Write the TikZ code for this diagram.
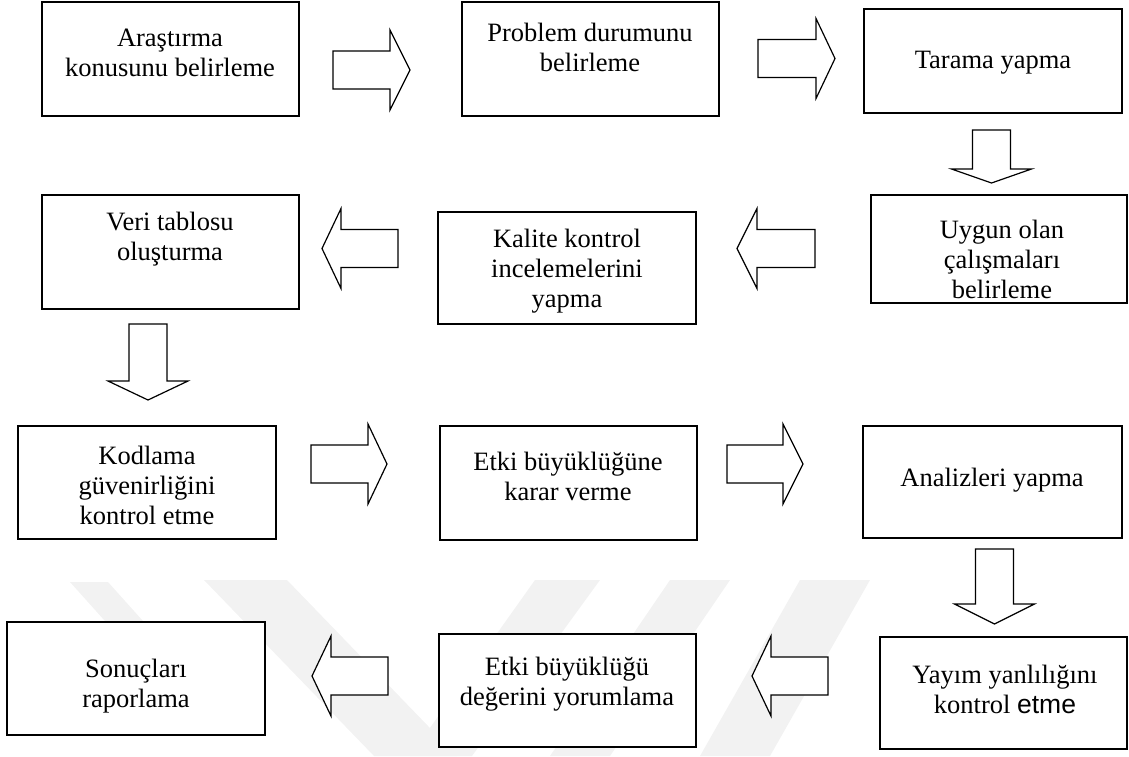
\documentclass[tikz,border=0pt]{standalone}
\usepackage{fontspec}
\setmainfont{Liberation Serif}
\newfontfamily\sansetme{Liberation Sans}
\begin{document}
\begin{tikzpicture}[x=1pt,y=-1pt,
  box/.style={draw=black,fill=white,line width=1.6pt,inner sep=0pt},
  txt/.style={align=center,inner sep=0pt,font=\fontsize{26.5}{30}\selectfont},
  arrowline/.style={draw=black,fill=white,line width=1.2pt,line join=miter},
  wm/.style={fill=black!5,draw=none},
  blockarrow/.pic={\draw[arrowline] (0,-19) -- (\pgfkeysvalueof{/tikz/arrlen}-\pgfkeysvalueof{/tikz/arrhead},-19) -- (\pgfkeysvalueof{/tikz/arrlen}-\pgfkeysvalueof{/tikz/arrhead},-40) -- (\pgfkeysvalueof{/tikz/arrlen},0) -- (\pgfkeysvalueof{/tikz/arrlen}-\pgfkeysvalueof{/tikz/arrhead},40) -- (\pgfkeysvalueof{/tikz/arrlen}-\pgfkeysvalueof{/tikz/arrhead},19) -- (0,19) -- cycle;},
  arrlen/.initial=77, arrhead/.initial=20]
\useasboundingbox (0,0) rectangle (1129,756);
% watermark
\fill[wm] (204,580) -- (287,580) -- (457,756) -- (374,756) -- cycle;
\fill[wm] (70,582) -- (108,582) -- (160,640) -- (122,640) -- cycle;
\fill[wm] (535,580) -- (600,580) -- (472,756) -- (410,756) -- cycle;
\fill[wm] (670,580) -- (730,580) -- (610,756) -- (550,756) -- cycle;
\fill[wm] (800,580) -- (870,580) -- (770,756) -- (700,756) -- cycle;
% boxes
\node[box,minimum width=257,minimum height=114] (b1) at (170.5,59) {};
\node[box,minimum width=257,minimum height=114] (b2) at (590.5,59) {};
\node[box,minimum width=258,minimum height=104] (b3) at (993,61) {};
\node[box,minimum width=256,minimum height=108] (b4) at (999,249) {};
\node[box,minimum width=257,minimum height=114] (b5) at (170.5,252) {};
\node[box,minimum width=258,minimum height=112] (b6) at (567,268) {};
\node[box,minimum width=258,minimum height=113] (b7) at (147,482.5) {};
\node[box,minimum width=257,minimum height=114] (b8) at (568.5,483) {};
\node[box,minimum width=259,minimum height=112] (b9) at (992.5,482) {};
\node[box,minimum width=247,minimum height=112] (b10) at (1003.5,693) {};
\node[box,minimum width=257,minimum height=113] (b11) at (567.5,690.5) {};
\node[box,minimum width=258,minimum height=113] (b12) at (136,678.5) {};
% texts
\node[txt] (t1) at (170,53) {Araştırma\\konusunu belirleme};
\node[txt] (t2) at (590,47) {Problem durumunu\\belirleme};
\node[txt] (t3) at (993,63) {Tarama yapma};
\node[txt] (t4) at (1002,259) {Uygun olan\\çalışmaları\\belirleme};
\node[txt] (t5) at (170,239) {Veri tablosu\\oluşturma};
\node[txt] (t6) at (567,271) {Kalite kontrol\\incelemelerini\\yapma};
\node[txt] (t7) at (147,485) {Kodlama\\güvenirliğini\\kontrol etme};
\node[txt] (t8) at (568,476) {Etki büyüklüğüne\\karar verme};
\node[txt] (t9) at (992,480) {Analizleri yapma};
\node[txt] (t10) at (1005,689) {Yayım yanlılığını\\kontrol {\sansetme etme}};
\node[txt] (t11) at (567,684) {Etki büyüklüğü\\değerini yorumlama};
\node[txt] (t12) at (136,686) {Sonuçları\\raporlama};
% block arrows
\pic[arrlen=77,arrhead=20] at (333,70) {blockarrow};
\pic[arrlen=77,arrhead=19] at (758,58.5) {blockarrow};
\pic[arrlen=53,arrhead=14,rotate=-90] at (991.5,130) {blockarrow};
\pic[arrlen=78,arrhead=20,rotate=180] at (815,248.5) {blockarrow};
\pic[arrlen=76,arrhead=19,rotate=180] at (398,248.5) {blockarrow};
\pic[arrlen=76,arrhead=19,rotate=-90] at (148,324) {blockarrow};
\pic[arrlen=76,arrhead=19] at (311,464) {blockarrow};
\pic[arrlen=76,arrhead=20] at (727,464) {blockarrow};
\pic[arrlen=75,arrhead=20,rotate=-90] at (994.5,549) {blockarrow};
\pic[arrlen=76,arrhead=19,rotate=180] at (828,676) {blockarrow};
\pic[arrlen=76,arrhead=19,rotate=180] at (388,676) {blockarrow};
\end{tikzpicture}
\end{document}
